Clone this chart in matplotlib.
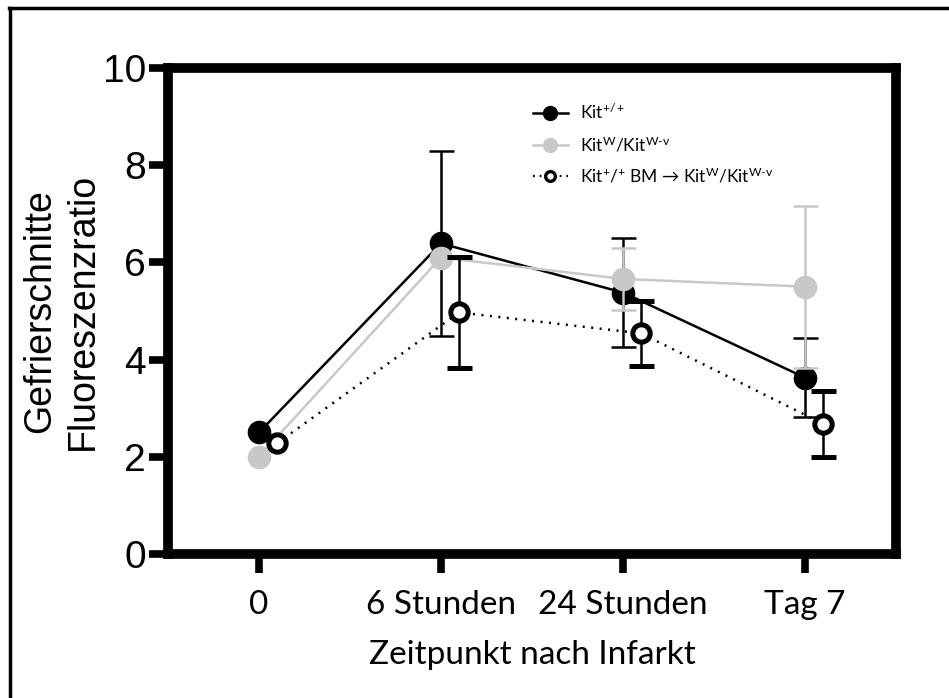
import matplotlib
matplotlib.use("Agg")
import matplotlib.pyplot as plt
from matplotlib.lines import Line2D
import numpy as np

# Zeitpunkte und Mittelwerte +/- Fehler
zeitpunkte = ["0", "6 Stunden", "24 Stunden", "Tag 7"]

wt_mean = [2.50, 6.39, 5.38, 3.63]
wt_err = [np.nan, 1.91, 1.12, 0.81]

w_mean = [2.00, 6.10, 5.66, 5.50]
w_err = [np.nan, np.nan, 0.63, 1.67]

bm_mean = [2.28, 4.97, 4.54, 2.68]
bm_err = [np.nan, 1.15, 0.67, 0.68]

labels = [r"Kit$^{+/+}$",
          r"Kit$^{W}$/Kit$^{W\text{-}v}$",
          r"Kit$^{+}$/$^{+}$ BM → Kit$^{W}$/Kit$^{W\text{-}v}$"]

GRAU = "#c8c8c8"
plt.rcParams["mathtext.fontset"] = "custom"
plt.rcParams["mathtext.rm"] = "Lato"
plt.rcParams["mathtext.it"] = "Lato"

fig = plt.figure(figsize=(9.49, 6.98), dpi=100)
ax = fig.add_axes([0.177, 0.2063, 0.767, 0.6963])

x = np.arange(len(zeitpunkte))
eb = dict(capsize=9, elinewidth=1.8, capthick=1.8)

ax.errorbar(x, wt_mean, yerr=wt_err, color="black", lw=1.8, marker="o",
            ms=16, mec="black", mfc="black", ecolor="black", zorder=3, **eb)
ax.errorbar(x, w_mean, yerr=w_err, color=GRAU, lw=1.8, marker="o",
            ms=16, mec=GRAU, mfc=GRAU, ecolor=GRAU, zorder=4, **eb)
ax.errorbar(x + 0.1, bm_mean, yerr=bm_err, color="black", lw=1.8,
            ls=(0, (0.8, 2.6)), marker="o", ms=12.5, mew=3.6, mec="black",
            mfc="white", ecolor="black", zorder=5, **eb)

ax.set_xlim(-0.5, 3.5)
ax.set_ylim(0, 10)
ax.set_yticks([0, 2, 4, 6, 8, 10])
ax.set_xticks(x)
ax.set_xticklabels(zeitpunkte, fontfamily="Lato", fontsize=24)
for lab in ax.get_yticklabels():
    lab.set_fontfamily("Liberation Sans")
    lab.set_fontsize(28)

for s in ax.spines.values():
    s.set_linewidth(7)
ax.tick_params(axis="both", width=5.5, length=14, direction="out")
ax.tick_params(axis="y", pad=2)
ax.tick_params(axis="x", pad=12)

ax.set_xlabel("Zeitpunkt nach Infarkt", fontfamily="Lato", fontsize=24,
              labelpad=14)
ax.set_ylabel("Gefrierschnitte\nFluoreszenzratio", fontfamily="Liberation Sans",
              fontsize=27, labelpad=1, linespacing=1.25)

# Legende nur mit Linie und Marker
handles = [
    Line2D([], [], color="black", lw=1.8, marker="o", ms=10, mfc="black",
           mec="black"),
    Line2D([], [], color=GRAU, lw=1.8, marker="o", ms=10, mfc=GRAU, mec=GRAU),
    Line2D([], [], color="black", lw=1.6, ls=(0, (0.8, 2.2)), marker="o",
           ms=7, mew=2.4, mfc="white", mec="black"),
]
ax.legend(handles, labels, loc="upper left", bbox_to_anchor=(0.48, 0.96),
          frameon=False, prop={"family": ["Lato", "DejaVu Sans"], "size": 12.5},
          handlelength=2.0, labelspacing=0.7, handletextpad=0.7)

# Rahmen oben und links
fig.add_artist(Line2D([9 / 949, 1], [1 - 8 / 698] * 2, color="black", lw=2.5,
                      transform=fig.transFigure))
fig.add_artist(Line2D([10 / 949] * 2, [0, 1 - 8 / 698], color="black", lw=2.5,
                      transform=fig.transFigure))

fig.savefig("out.png", dpi=100)
